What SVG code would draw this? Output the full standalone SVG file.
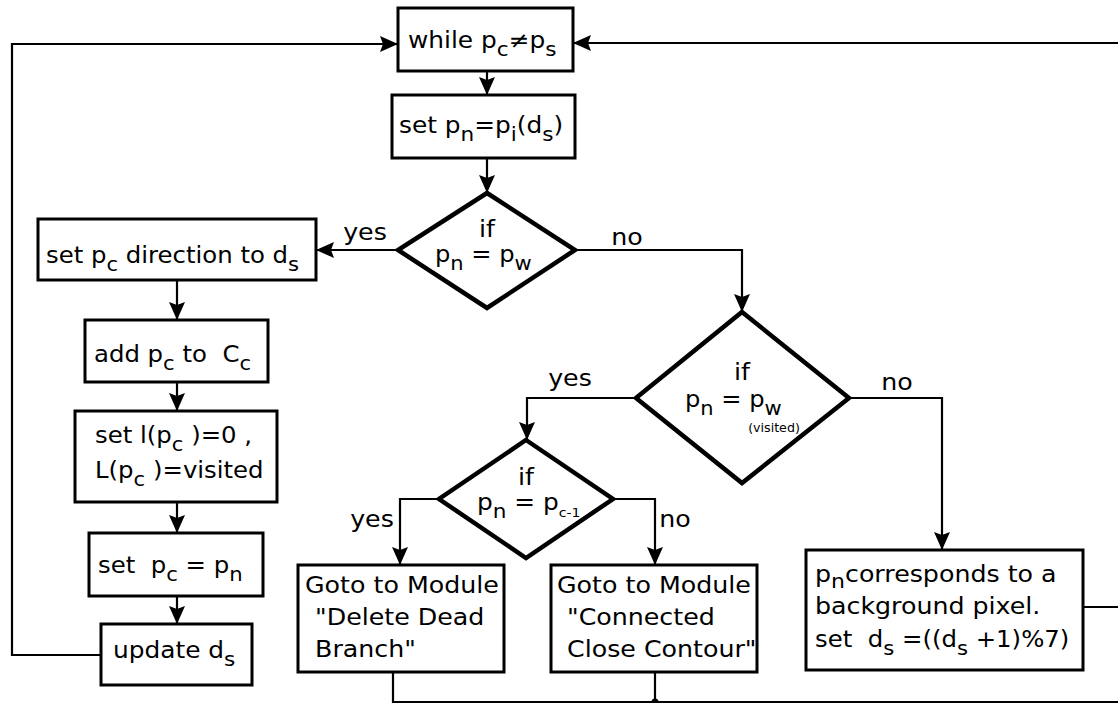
<svg xmlns="http://www.w3.org/2000/svg" width="1118" height="703" viewBox="0 0 1118 703">
  <style>
    text { font-family: "DejaVu Sans", "Liberation Sans", sans-serif; font-size: 23px; fill: #000; white-space: pre; }
    .sub { font-size: 20px; }
    .tiny { font-size: 11.5px; }
    .mid { text-anchor: middle; }
    .box { fill: #fff; stroke: #000; stroke-width: 3; }
    .dec { fill: #fff; stroke: #000; stroke-width: 4.5; stroke-linejoin: miter; }
    .wire { fill: none; stroke: #000; stroke-width: 2.2; }
  </style>
  <defs>
    <marker id="arrow" markerUnits="userSpaceOnUse" markerWidth="20" markerHeight="18" refX="18" refY="8" orient="auto">
      <path d="M0,0 L18,8 L0,16 L3,8 z" fill="#000"/>
    </marker>
  </defs>

  <rect width="1118" height="703" fill="#fff"/>

  <!-- connectors -->
  <g id="connectors">
    <path class="wire" d="M101,655 H12 V44 H398" marker-end="url(#arrow)"/>
    <path class="wire" d="M1083,607 H1122 V43 H573" marker-end="url(#arrow)"/>
    <path class="wire" d="M393,672 V702 H1122"/>
    <path class="wire" d="M655,672 V702"/>
    <circle cx="655" cy="702" r="3.5" fill="#000"/>
    <path class="wire" d="M487,71 V95" marker-end="url(#arrow)"/>
    <path class="wire" d="M487,158 V193" marker-end="url(#arrow)"/>
    <path class="wire" d="M398,250 H316" marker-end="url(#arrow)"/>
    <path class="wire" d="M575,250 H742 V312" marker-end="url(#arrow)"/>
    <path class="wire" d="M177,280 V320" marker-end="url(#arrow)"/>
    <path class="wire" d="M177,382 V411" marker-end="url(#arrow)"/>
    <path class="wire" d="M177,502 V533" marker-end="url(#arrow)"/>
    <path class="wire" d="M177,596 V624" marker-end="url(#arrow)"/>
    <path class="wire" d="M636,398 H527 V440" marker-end="url(#arrow)"/>
    <path class="wire" d="M849,398 H942 V550" marker-end="url(#arrow)"/>
    <path class="wire" d="M439,499 H400 V565" marker-end="url(#arrow)"/>
    <path class="wire" d="M613,499 H655 V565" marker-end="url(#arrow)"/>
    <!-- branch labels -->
    <g transform="translate(365,240) scale(1.1,1)"><text class="mid">yes</text></g>
    <g transform="translate(627,245) scale(1.1,1)"><text class="mid">no</text></g>
    <g transform="translate(570,386) scale(1.1,1)"><text class="mid">yes</text></g>
    <g transform="translate(897,390) scale(1.1,1)"><text class="mid">no</text></g>
    <g transform="translate(372,527) scale(1.1,1)"><text class="mid">yes</text></g>
    <g transform="translate(675,527) scale(1.1,1)"><text class="mid">no</text></g>
  </g>

  <!-- loop condition -->
  <g id="while">
    <rect class="box" x="398" y="8" width="175" height="63"/>
    <g transform="translate(408,48) scale(1.08,1)">
      <text>while p<tspan class="sub" dy="8">c</tspan><tspan dy="-8">≠p</tspan><tspan class="sub" dy="8">s</tspan></text>
    </g>
  </g>

  <g id="set-pn">
    <rect class="box" x="392" y="95" width="183" height="63"/>
    <g transform="translate(399,133) scale(1.08,1)">
      <text>set p<tspan class="sub" dy="8">n</tspan><tspan dy="-8">=p</tspan><tspan class="sub" dy="8">i</tspan><tspan dy="-8">(d</tspan><tspan class="sub" dy="8">s</tspan><tspan dy="-8">)</tspan></text>
    </g>
  </g>

  <g id="if-pw">
    <polygon class="dec" points="487,193 575,250 487,308 398,250"/>
    <g transform="translate(487,237) scale(1.1,1)"><text class="mid">if</text></g>
    <g transform="translate(435,262) scale(1.05,1)">
      <text>p<tspan class="sub" dy="8">n</tspan><tspan dy="-8"> = p</tspan><tspan class="sub" dy="8">w</tspan></text>
    </g>
  </g>

  <g id="set-direction">
    <rect class="box" x="38" y="219" width="278" height="61"/>
    <g transform="translate(46,263) scale(1.06,1)">
      <text>set p<tspan class="sub" dy="8">c</tspan><tspan dy="-8"> direction to d</tspan><tspan class="sub" dy="8">s</tspan></text>
    </g>
  </g>

  <g id="add-pc">
    <rect class="box" x="85" y="320" width="183" height="62"/>
    <g transform="translate(94,362) scale(1.06,1)">
      <text>add p<tspan class="sub" dy="8">c</tspan><tspan dy="-8"> to  C</tspan><tspan class="sub" dy="8">c</tspan></text>
    </g>
  </g>

  <g id="set-label">
    <rect class="box" x="75" y="411" width="202" height="91"/>
    <g transform="translate(95,443) scale(1.06,1)">
      <text>set l(p<tspan class="sub" dy="8">c</tspan><tspan dy="-8"> )=0 ,</tspan></text>
    </g>
    <g transform="translate(95,478) scale(1.06,1)">
      <text>L(p<tspan class="sub" dy="8">c</tspan><tspan dy="-8"> )=visited</tspan></text>
    </g>
  </g>

  <g id="set-pc">
    <rect class="box" x="89" y="533" width="174" height="63"/>
    <g transform="translate(98,573) scale(1.06,1)">
      <text>set  p<tspan class="sub" dy="8">c</tspan><tspan dy="-8"> = p</tspan><tspan class="sub" dy="8">n</tspan></text>
    </g>
  </g>

  <g id="update-ds">
    <rect class="box" x="101" y="624" width="151" height="61"/>
    <g transform="translate(113,658) scale(1.08,1)">
      <text>update d<tspan class="sub" dy="8">s</tspan></text>
    </g>
  </g>

  <g id="if-visited">
    <polygon class="dec" points="742,312 849,398 742,483 636,398"/>
    <g transform="translate(742,380) scale(1.1,1)"><text class="mid">if</text></g>
    <g transform="translate(685,407) scale(1.05,1)">
      <text>p<tspan class="sub" dy="8">n</tspan><tspan dy="-8"> = p</tspan><tspan class="sub" dy="8">w</tspan></text>
    </g>
    <g transform="translate(774,432) scale(1.1,1)"><text class="tiny mid">(visited)</text></g>
  </g>

  <g id="if-previous">
    <polygon class="dec" points="526,440 613,499 526,558 439,499"/>
    <g transform="translate(526,485) scale(1.1,1)"><text class="mid">if</text></g>
    <g transform="translate(477,510) scale(1.08,1)">
      <text>p<tspan class="sub" dy="8">n</tspan><tspan dy="-8"> = p</tspan><tspan style="font-size:13px" dy="7">c-1</tspan></text>
    </g>
  </g>

  <g id="delete-branch">
    <rect class="box" x="298" y="565" width="206" height="107"/>
    <g transform="translate(305,593) scale(1.1,1)"><text>Goto to Module</text></g>
    <g transform="translate(307,625) scale(1.1,1)"><text> "Delete Dead</text></g>
    <g transform="translate(307,657) scale(1.1,1)"><text> Branch"</text></g>
  </g>

  <g id="connected-contour">
    <rect class="box" x="551" y="565" width="206" height="107"/>
    <g transform="translate(557,593) scale(1.1,1)"><text>Goto to Module</text></g>
    <g transform="translate(559,625) scale(1.1,1)"><text> "Connected</text></g>
    <g transform="translate(559,657) scale(1.1,1)"><text> Close Contour"</text></g>
  </g>

  <g id="background-pixel">
    <rect class="box" x="806" y="550" width="277" height="120"/>
    <g transform="translate(815,582) scale(1.1,1)">
      <text>p<tspan class="sub" dy="6">n</tspan><tspan dy="-6">corresponds to a</tspan></text>
    </g>
    <g transform="translate(815,614) scale(1.1,1)"><text>background pixel.</text></g>
    <g transform="translate(815,647) scale(1.06,1)">
      <text>set  d<tspan class="sub" dy="8">s</tspan><tspan dy="-8"> =((d</tspan><tspan class="sub" dy="8">s</tspan><tspan dy="-8"> +1)%7)</tspan></text>
    </g>
  </g>
</svg>
